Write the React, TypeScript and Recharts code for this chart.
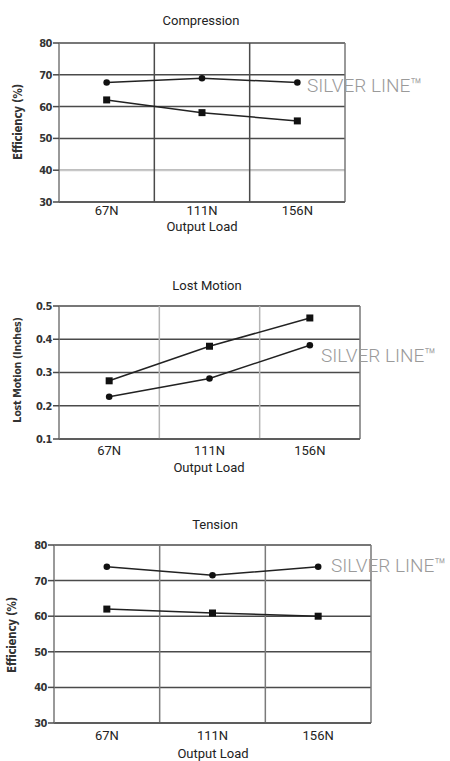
import React from 'react';
import { LineChart, Line, XAxis, YAxis, CartesianGrid, ReferenceLine } from 'recharts';

const categories = ['67N', '111N', '156N'];
const compressionCircle = [67.6, 68.9, 67.6];
const compressionSquare = [62.1, 58.1, 55.5];
const lostMotionSquare = [0.275, 0.379, 0.464];
const lostMotionCircle = [0.227, 0.282, 0.382];
const tensionCircle = [73.9, 71.5, 73.9];
const tensionSquare = [62.0, 60.9, 60.0];
const efficiencyTicks = [30, 40, 50, 60, 70, 80];
const lostMotionTicks = [0.1, 0.2, 0.3, 0.4, 0.5];
const categoryTicks = [0.5, 1.5, 2.5];
const boundaries = [1, 2, 3];

const buildRows = (circle: number[], square: number[]) =>
  categories.map((c, i) => ({ x: i + 0.5, name: c, circle: circle[i], square: square[i] }));

const SquareDot = (props: any) => {
  const { cx, cy } = props;
  if (cx == null || cy == null) return null;
  return <rect x={cx - 3.5} y={cy - 3.5} width={7} height={7} fill="#111" />;
};
const CircleDot = (props: any) => {
  const { cx, cy } = props;
  if (cx == null || cy == null) return null;
  return <circle cx={cx} cy={cy} r={3.3} fill="#111" />;
};

const Txt = ({ x, y, children, style, rotate }: any) => (
  <div
    style={{
      position: 'absolute',
      left: x,
      top: y,
      transform: `translate(-50%, -50%)${rotate ? ` rotate(${rotate}deg)` : ''}`,
      whiteSpace: 'nowrap',
      lineHeight: 1,
      ...style,
    }}
  >
    {children}
  </div>
);

const tickFont = { fontFamily: 'DejaVu Sans Condensed', fontWeight: 700, fontSize: 11, fill: '#333', letterSpacing: -0.5 };
const xTickFont = { fontFamily: 'Roboto', fontSize: 13, fill: '#222' };
const titleStyle = { fontFamily: 'Roboto', fontSize: 13, color: '#222' };
const yLabelStyle = { fontFamily: 'DejaVu Sans Condensed', fontWeight: 700, fontSize: 11.5, color: '#333', letterSpacing: -0.3 };
const yLabelStyle2 = { ...yLabelStyle, fontSize: 10.7 };
const brandStyle = { fontFamily: 'Roboto', fontWeight: 300, fontSize: 19, color: '#9a9a9a', transform: 'translate(0, -50%)' };

type PanelProps = {
  top: number;
  height: number;
  margin: { top: number; right: number; bottom: number; left: number };
  rows: any[];
  domain: [number, number];
  ticks: number[];
  tickFmt: (v: number) => string;
  vStroke: string;
  lightY?: number;
  xTickMargin: number;
};

const Panel = ({ top, height, margin, rows, domain, ticks, tickFmt, vStroke, lightY, xTickMargin }: PanelProps) => (
  <div style={{ position: 'absolute', left: 0, top, width: 450, height }}>
    <LineChart width={450} height={height} data={rows} margin={margin}>
      <CartesianGrid vertical={false} stroke="#4a4a4a" strokeWidth={1.5} />
      {lightY != null && <ReferenceLine y={lightY} stroke="#c8c8c8" strokeWidth={2} />}
      {boundaries.map((b) => (
        <ReferenceLine key={b} x={b} stroke={b === 3 ? '#777' : vStroke} strokeWidth={1.5} />
      ))}
      <XAxis
        type="number"
        dataKey="x"
        domain={[0, 3]}
        ticks={categoryTicks}
        tickFormatter={(v: number) => categories[Math.floor(v)]}
        tick={xTickFont}
        tickLine={false}
        tickSize={0}
        tickMargin={xTickMargin}
        axisLine={{ stroke: '#555', strokeWidth: 1.5 }}
        height={20}
        interval={0}
      />
      <YAxis
        type="number"
        domain={domain}
        ticks={ticks}
        tickFormatter={tickFmt}
        tick={tickFont}
        tickLine={{ stroke: '#4a4a4a', strokeWidth: 1.5 }}
        tickSize={6}
        tickMargin={1}
        axisLine={{ stroke: '#777', strokeWidth: 1.5 }}
        width={40}
        interval={0}
      />
      <Line type="linear" dataKey="circle" stroke="#222" strokeWidth={1.5} dot={<CircleDot />} activeDot={false} isAnimationActive={false} />
      <Line type="linear" dataKey="square" stroke="#222" strokeWidth={1.5} dot={<SquareDot />} activeDot={false} isAnimationActive={false} />
    </LineChart>
  </div>
);

export default function App() {
  return (
    <div style={{ position: 'absolute', left: 0, top: 0, width: 450, height: 761, background: '#fff', overflow: 'hidden' }}>
      <Panel
        top={0}
        height={240}
        margin={{ top: 43, right: 105, bottom: 18, left: 19 }}
        rows={buildRows(compressionCircle, compressionSquare)}
        domain={[30, 80]}
        ticks={efficiencyTicks}
        tickFmt={(v) => String(v)}
        vStroke="#4a4a4a"
        lightY={40}
        xTickMargin={4}
      />
      <Txt x={201} y={20} style={titleStyle}>Compression</Txt>
      <Txt x={202} y={226} style={titleStyle}>Output Load</Txt>
      <Txt x={19} y={122} rotate={-90} style={yLabelStyle}>Efficiency (%)</Txt>
      <div style={{ position: 'absolute', left: 307, top: 85, whiteSpace: 'nowrap', lineHeight: 1, ...brandStyle }}>SILVER LINE™</div>

      <Panel
        top={260}
        height={200}
        margin={{ top: 46, right: 90, bottom: 1, left: 19 }}
        rows={buildRows(lostMotionCircle, lostMotionSquare)}
        domain={[0.1, 0.5]}
        ticks={lostMotionTicks}
        tickFmt={(v) => v.toFixed(1)}
        vStroke="#b5b5b5"
        xTickMargin={7}
      />
      <Txt x={207} y={285} style={titleStyle}>Lost Motion</Txt>
      <Txt x={209} y={467} style={titleStyle}>Output Load</Txt>
      <Txt x={18} y={370} rotate={-90} style={yLabelStyle2}>Lost Motion (Inches)</Txt>
      <div style={{ position: 'absolute', left: 321, top: 355, whiteSpace: 'nowrap', lineHeight: 1, ...brandStyle }}>SILVER LINE™</div>

      <Panel
        top={500}
        height={261}
        margin={{ top: 45, right: 79, bottom: 18, left: 14 }}
        rows={buildRows(tensionCircle, tensionSquare)}
        domain={[30, 80]}
        ticks={efficiencyTicks}
        tickFmt={(v) => String(v)}
        vStroke="#7a7a7a"
        xTickMargin={8}
      />
      <Txt x={215} y={524} style={titleStyle}>Tension</Txt>
      <Txt x={213} y={753} style={titleStyle}>Output Load</Txt>
      <Txt x={13} y={635} rotate={-90} style={yLabelStyle}>Efficiency (%)</Txt>
      <div style={{ position: 'absolute', left: 331, top: 565, whiteSpace: 'nowrap', lineHeight: 1, ...brandStyle }}>SILVER LINE™</div>
    </div>
  );
}
